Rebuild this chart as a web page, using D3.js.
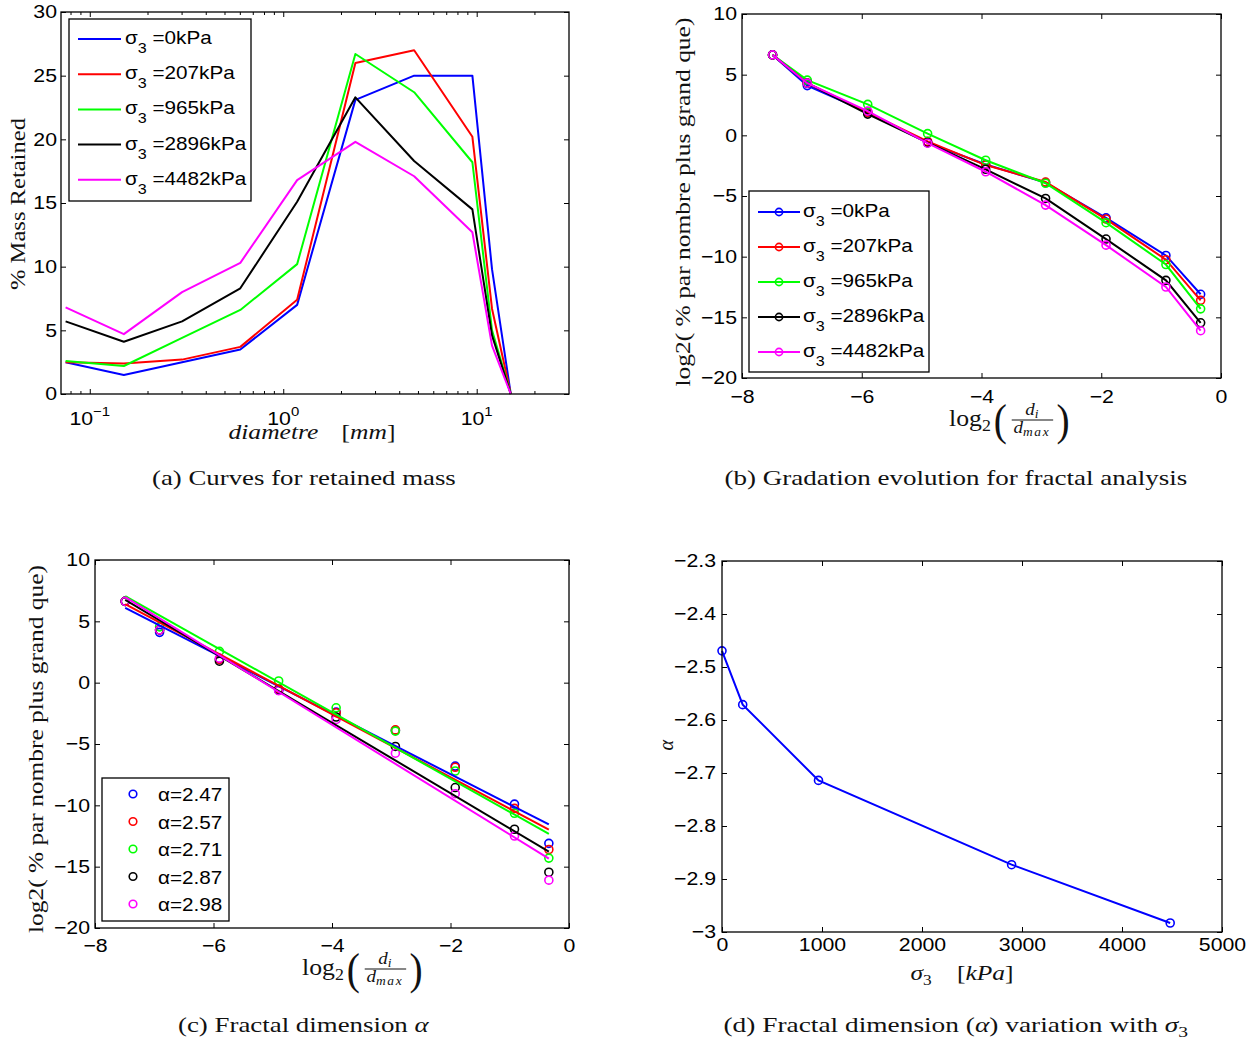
<!DOCTYPE html>
<html><head><meta charset="utf-8">
<script src="https://cdn.jsdelivr.net/npm/d3@7"></script>
<style>body{margin:0;background:#fff}svg{display:block}</style>
</head><body>
<svg id="c" width="1259" height="1041"></svg>
<script>
// ---------- data ----------
const seriesLabels = ["0kPa", "207kPa", "965kPa", "2896kPa", "4482kPa"];
const seriesColors = ["#0000ff", "#ff0000", "#00ff00", "#000000", "#ff00ff"];
// (a) sieve diameters [mm] and % mass retained
const sieveMM = [0.075, 0.15, 0.3, 0.6, 1.18, 2.36, 4.75, 9.5, 12, 15];
const retained0    = [2.5, 1.5, 2.5, 3.5, 7.0, 23.1, 25.0, 25.0, 9.8, 0];
const retained207  = [2.5, 2.4, 2.7, 3.7, 7.4, 26.0, 27.0, 20.2, 6.7, 0];
const retained965  = [2.6, 2.2, 4.4, 6.6, 10.2, 26.7, 23.7, 18.2, 5.0, 0];
const retained2896 = [5.7, 4.1, 5.7, 8.3, 15.1, 23.3, 18.3, 14.5, 4.6, 0];
const retained4482 = [6.8, 4.7, 8.0, 10.3, 16.8, 19.8, 17.1, 12.7, 3.8, 0];
// (b),(c) log2(di/dmax) and log2(% par nombre plus grand que)
const log2Ratio = [-7.49, -6.91, -5.90, -4.90, -3.93, -2.93, -1.92, -0.92, -0.34];
const count0    = [6.63, 4.1, 1.9, -0.6, -2.4, -3.9, -6.8, -9.9, -13.1];
const count207  = [6.63, 4.3, 1.9, -0.5, -2.45, -3.85, -6.9, -10.25, -13.6];
const count965  = [6.63, 4.55, 2.55, 0.14, -2.05, -3.95, -7.2, -10.65, -14.3];
const count2896 = [6.63, 4.3, 1.75, -0.6, -2.8, -5.2, -8.55, -11.95, -15.45];
const count4482 = [6.63, 4.3, 2.0, -0.65, -3.0, -5.75, -9.05, -12.5, -16.1];
// (c) fitted fractal dimension and intercepts
const alphaValues = [2.47, 2.57, 2.71, 2.87, 2.98];
const fitIntercepts = [-12.4, -12.85, -13.25, -14.75, -15.35];
// (d) alpha vs sigma3
const sigma3 = [0, 207, 965, 2896, 4482];
const alphaBySigma = [-2.4695, -2.571, -2.714, -2.873, -2.983];
// ticks
const ticksA_y = [0, 5, 10, 15, 20, 25, 30];
const ticksA_x = [0.1, 1, 10];
const ticksA_xLabels = ["\u22121", "0", "1"];
const ticksB_x = [-8, -6, -4, -2, 0];
const ticksB_y = [-20, -15, -10, -5, 0, 5, 10];
const ticksD_x = [0, 1000, 2000, 3000, 4000, 5000];
const ticksD_y = [-3, -2.9, -2.8, -2.7, -2.6, -2.5, -2.4, -2.3];

const retained = [retained0, retained207, retained965, retained2896, retained4482];
const counts = [count0, count207, count965, count2896, count4482];

// ---------- setup ----------
const SANS = "'Liberation Sans', Arial, sans-serif";
const SERIF = "'Liberation Serif', 'DejaVu Serif', serif";
const SX = 1.15; // horizontal stretch of the source raster text
const svg = d3.select('#c');
const fmt = t => String(Math.round(t * 10) / 10).replace('-', '\u2212');

function frame(g, x, y, o) {
  const [xa, xb] = x.range(), [ya, yb] = y.range();
  g.append('rect').attr('x', xa).attr('y', yb).attr('width', xb - xa).attr('height', ya - yb)
    .attr('fill', 'none').attr('stroke', '#000').attr('stroke-width', 1.3);
  const axes = [
    [d3.axisBottom(x).tickValues(o.xt).tickSize(-5).tickPadding(o.xPad).tickFormat(o.xFmt || fmt), `translate(0,${ya})`, 'b'],
    [d3.axisTop(x).tickValues(o.xt).tickSize(-5).tickFormat(''), `translate(0,${yb})`, 't'],
    [d3.axisLeft(y).tickValues(o.yt).tickSize(-5).tickPadding(o.yPad).tickFormat(fmt), `translate(${xa},0)`, 'l'],
    [d3.axisRight(y).tickValues(o.yt).tickSize(-5).tickFormat(''), `translate(${xb},0)`, 'r']
  ];
  axes.forEach(([ax, tr, side]) => {
    const a = g.append('g').attr('transform', tr).call(ax.tickSizeOuter(0));
    a.select('.domain').remove();
    a.selectAll('line').attr('stroke', '#000').attr('stroke-width', 1);
    const txt = a.selectAll('text').attr('font-family', SANS).attr('font-size', 18.5).attr('fill', '#000');
    if (side === 'l') txt.attr('x', -o.yPad / SX).attr('transform', `scale(${SX},1)`);
    if (side === 'b') txt.attr('transform', `scale(${SX},1)`);
  });
}

function sansText(g, x, y, size) {
  return g.append('text').attr('transform', `translate(${x},${y}) scale(${SX},1)`)
    .attr('font-family', SANS).attr('font-size', size);
}

// Serif label fitted to a target width (stretched like the source raster)
function fitLabel(cx, cy, targetW, rot, size, build) {
  const outer = svg.append('g');
  const inner = outer.append('g');
  const t = inner.append('text').attr('font-family', SERIF).attr('font-size', size).attr('fill', '#111');
  build(t);
  const bb = t.node().getBBox();
  inner.attr('transform', `translate(${-(bb.x + bb.width / 2)},0)`);
  outer.attr('transform', `translate(${cx},${cy}) rotate(${rot}) scale(${targetW / bb.width},1)`);
}

function log2Label(L, B) {
  const g = svg.append('g').attr('transform', `translate(${L},${B}) scale(1.12,1)`)
    .attr('font-family', SERIF).attr('fill', '#111');
  const t = g.append('text').attr('font-size', 23);
  t.append('tspan').text('log');
  t.append('tspan').attr('font-size', 16).attr('dy', 5).text('2');
  g.append('text').attr('x', 39).attr('y', 9).attr('font-size', 44).attr('transform', 'scale(0.8,1)').attr('x', 50).text('(');
  g.append('line').attr('x1', 56).attr('x2', 93).attr('y1', -6).attr('y2', -6).attr('stroke', '#111').attr('stroke-width', 1);
  const n = g.append('text').attr('x', 74).attr('y', -11).attr('text-anchor', 'middle').attr('font-size', 17).attr('font-style', 'italic');
  n.append('tspan').text('d');
  n.append('tspan').attr('font-size', 12).attr('dy', 3).text('i');
  const d = g.append('text').attr('x', 74).attr('y', 7).attr('text-anchor', 'middle').attr('font-size', 17).attr('font-style', 'italic');
  d.append('tspan').text('d');
  d.append('tspan').attr('font-size', 12).attr('dy', 3).attr('letter-spacing', 1.5).text('max');
  g.append('text').attr('y', 9).attr('font-size', 44).attr('transform', 'scale(0.8,1)').attr('x', 120).text(')');
}

function sigmaLegendText(g, x, y, lab) {
  const t = sansText(g, x, y, 18);
  t.append('tspan').text('\u03c3');
  t.append('tspan').attr('font-size', 14).attr('dy', 9).text('3');
  t.append('tspan').attr('dy', -9).text(' =' + lab);
}

// ---------- panel (a) ----------
const xA = d3.scaleLog().domain([0.071, 30]).range([61, 569]);
const yA = d3.scaleLinear().domain([0, 30]).range([394, 12]);
const gA = svg.append('g');
const lineA = d3.line().x(d => xA(d[0])).y(d => yA(d[1]));
retained.forEach((s, i) => {
  gA.append('path').attr('d', lineA(sieveMM.map((d, j) => [d, s[j]])))
    .attr('fill', 'none').attr('stroke', seriesColors[i]).attr('stroke-width', 2).attr('stroke-linejoin', 'round');
});
frame(gA, xA, yA, {xt: ticksA_x, yt: ticksA_y, xPad: 12, yPad: 4, xFmt: () => ''});
// minor log ticks
const minor = [];
[-2, -1, 0, 1].forEach(e => { for (let k = 2; k <= 9; k++) { const v = k * Math.pow(10, e); if (v > 0.071 && v < 29.9) minor.push(v); } });
minor.forEach(v => {
  gA.append('line').attr('x1', xA(v)).attr('x2', xA(v)).attr('y1', 394).attr('y2', 391).attr('stroke', '#000');
  gA.append('line').attr('x1', xA(v)).attr('x2', xA(v)).attr('y1', 12).attr('y2', 15).attr('stroke', '#000');
});
ticksA_x.forEach((v, i) => {
  const t = sansText(gA, xA(v), 425, 18.5).attr('text-anchor', 'middle');
  t.append('tspan').text('10');
  t.append('tspan').attr('font-size', 13).attr('dy', -9).text(ticksA_xLabels[i]);
});
// legend (a)
const lgA = svg.append('g');
lgA.append('rect').attr('x', 69).attr('y', 19).attr('width', 182).attr('height', 182)
  .attr('fill', '#fff').attr('stroke', '#000').attr('stroke-width', 1.3);
seriesLabels.forEach((lab, i) => {
  const r = 39 + i * 35.2;
  lgA.append('line').attr('x1', 78).attr('x2', 121).attr('y1', r).attr('y2', r).attr('stroke', seriesColors[i]).attr('stroke-width', 2);
  sigmaLegendText(lgA, 125, r + 5, lab);
});
fitLabel(25, 204, 172, -90, 22, t => t.text('% Mass Retained'));
fitLabel(312, 439, 167, 0, 22, t => {
  t.append('tspan').attr('font-style', 'italic').text('diametre');
  t.append('tspan').attr('dx', 20).text('[');
  t.append('tspan').attr('font-style', 'italic').text('mm');
  t.append('tspan').text(']');
});
fitLabel(304, 485, 304, 0, 21, t => t.text('(a) Curves for retained mass'));

// ---------- panel (b) ----------
const xB = d3.scaleLinear().domain([-8, 0]).range([742, 1221]);
const yB = d3.scaleLinear().domain([-20, 10]).range([378, 14]);
const gB = svg.append('g');
const lineB = d3.line().x(d => xB(d[0])).y(d => yB(d[1]));
counts.forEach((s, i) => {
  const pts = log2Ratio.map((d, j) => [d, s[j]]);
  gB.append('path').attr('d', lineB(pts)).attr('fill', 'none').attr('stroke', seriesColors[i]).attr('stroke-width', 2);
  gB.selectAll(null).data(pts).enter().append('circle')
    .attr('cx', d => xB(d[0])).attr('cy', d => yB(d[1])).attr('r', 4)
    .attr('fill', 'none').attr('stroke', seriesColors[i]).attr('stroke-width', 1.6);
});
frame(gB, xB, yB, {xt: ticksB_x, yt: ticksB_y, xPad: 12, yPad: 5});
const lgB = svg.append('g');
lgB.append('rect').attr('x', 749).attr('y', 191).attr('width', 180).attr('height', 181)
  .attr('fill', '#fff').attr('stroke', '#000').attr('stroke-width', 1.3);
seriesLabels.forEach((lab, i) => {
  const r = 212 + i * 35;
  lgB.append('line').attr('x1', 758).attr('x2', 800).attr('y1', r).attr('y2', r).attr('stroke', seriesColors[i]).attr('stroke-width', 2);
  lgB.append('circle').attr('cx', 779).attr('cy', r).attr('r', 3.6).attr('fill', 'none').attr('stroke', seriesColors[i]).attr('stroke-width', 1.6);
  sigmaLegendText(lgB, 803, r + 5, lab);
});
fitLabel(690, 202, 369, -90, 22, t => t.text('log2( % par nombre plus grand que)'));
log2Label(949, 426);
fitLabel(956, 485, 463, 0, 21, t => t.text('(b) Gradation evolution for fractal analysis'));

// ---------- panel (c) ----------
const xC = d3.scaleLinear().domain([-8, 0]).range([95, 569]);
const yC = d3.scaleLinear().domain([-20, 10]).range([928, 560]);
const gC = svg.append('g');
counts.forEach((s, i) => {
  gC.selectAll(null).data(log2Ratio.map((d, j) => [d, s[j]])).enter().append('circle')
    .attr('cx', d => xC(d[0])).attr('cy', d => yC(d[1])).attr('r', 4)
    .attr('fill', 'none').attr('stroke', seriesColors[i]).attr('stroke-width', 1.6);
});
counts.forEach((s, i) => {
  const x0 = log2Ratio[0], x1 = log2Ratio[log2Ratio.length - 1];
  const f = x => -alphaValues[i] * x + fitIntercepts[i];
  gC.append('line').attr('x1', xC(x0)).attr('y1', yC(f(x0))).attr('x2', xC(x1)).attr('y2', yC(f(x1)))
    .attr('stroke', seriesColors[i]).attr('stroke-width', 2);
});
frame(gC, xC, yC, {xt: ticksB_x, yt: ticksB_y, xPad: 11, yPad: 5});
const lgC = svg.append('g');
lgC.append('rect').attr('x', 102).attr('y', 778).attr('width', 127).attr('height', 143)
  .attr('fill', '#fff').attr('stroke', '#000').attr('stroke-width', 1.3);
alphaValues.forEach((a, i) => {
  const r = 794 + i * 27.5;
  lgC.append('circle').attr('cx', 133).attr('cy', r).attr('r', 3.8).attr('fill', 'none').attr('stroke', seriesColors[i]).attr('stroke-width', 1.6);
  sansText(lgC, 158, r + 7, 18).text('\u03b1=' + a.toFixed(2));
});
fitLabel(43, 749, 368, -90, 22, t => t.text('log2( % par nombre plus grand que)'));
log2Label(302, 975);
fitLabel(304, 1032, 252, 0, 21, t => {
  t.append('tspan').text('(c) Fractal dimension ');
  t.append('tspan').attr('font-style', 'italic').text('\u03b1');
});

// ---------- panel (d) ----------
const xD = d3.scaleLinear().domain([0, 5000]).range([722, 1222]);
const yD = d3.scaleLinear().domain([-3, -2.3]).range([932, 561]);
const gD = svg.append('g');
const ptsD = sigma3.map((d, j) => [d, alphaBySigma[j]]);
gD.append('path').attr('d', d3.line().x(d => xD(d[0])).y(d => yD(d[1]))(ptsD))
  .attr('fill', 'none').attr('stroke', '#0000ff').attr('stroke-width', 2);
gD.selectAll(null).data(ptsD).enter().append('circle')
  .attr('cx', d => xD(d[0])).attr('cy', d => yD(d[1])).attr('r', 4)
  .attr('fill', 'none').attr('stroke', '#0000ff').attr('stroke-width', 1.6);
frame(gD, xD, yD, {xt: ticksD_x, yt: ticksD_y, xPad: 6, yPad: 6});
fitLabel(673, 745, 11, -90, 22, t => t.append('tspan').attr('font-style', 'italic').text('\u03b1'));
fitLabel(962, 980, 103, 0, 22, t => {
  t.append('tspan').attr('font-style', 'italic').text('\u03c3');
  t.append('tspan').attr('font-size', 15).attr('dy', 5).text('3');
  t.append('tspan').attr('dy', -5).attr('dx', 22).text('[');
  t.append('tspan').attr('font-style', 'italic').text('kPa');
  t.append('tspan').text(']');
});
fitLabel(956, 1032, 465, 0, 21, t => {
  t.append('tspan').text('(d) Fractal dimension (');
  t.append('tspan').attr('font-style', 'italic').text('\u03b1');
  t.append('tspan').text(') variation with ');
  t.append('tspan').attr('font-style', 'italic').text('\u03c3');
  t.append('tspan').attr('font-size', 15).attr('dy', 5).text('3');
});
</script>
</body></html>
